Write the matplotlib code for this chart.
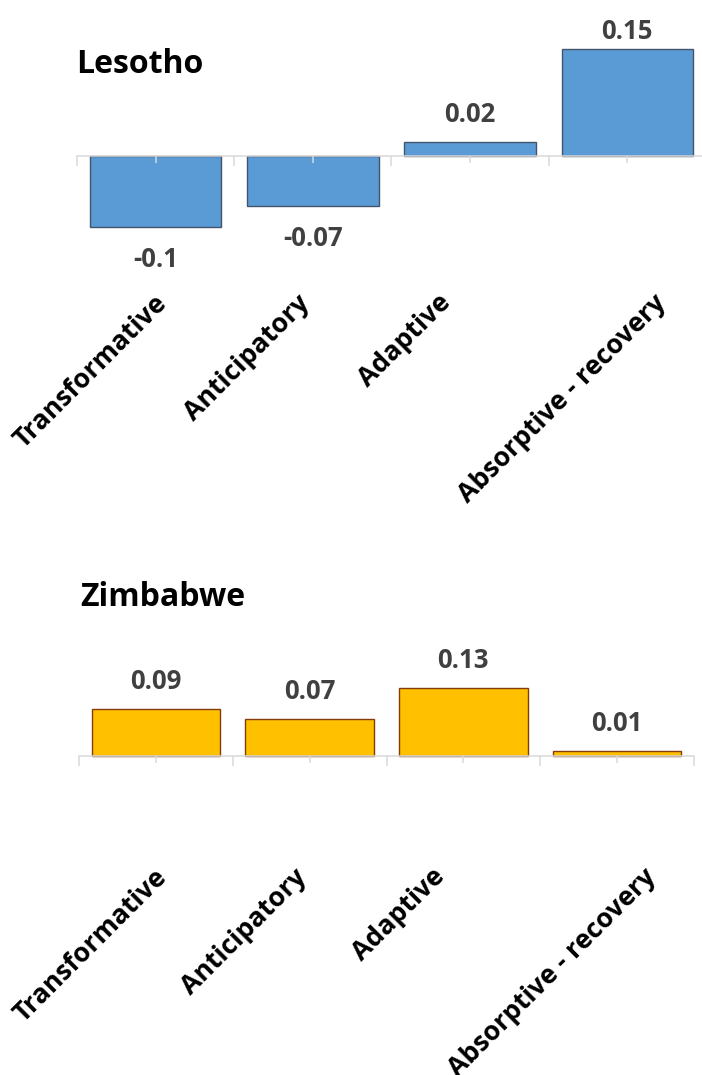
import matplotlib
matplotlib.use("Agg")
import matplotlib.pyplot as plt
from matplotlib.ticker import FixedLocator

plt.rcParams['font.family'] = ['Open Sans', 'DejaVu Sans']

categories = ["Transformative", "Anticipatory", "Adaptive", "Absorptive - recovery"]
lesotho_values = [-0.10, -0.07, 0.02, 0.15]
zimbabwe_values = [0.09, 0.07, 0.13, 0.01]
lesotho_labels = ["-0.1", "-0.07", "0.02", "0.15"]
zimbabwe_labels = ["0.09", "0.07", "0.13", "0.01"]

W, H = 702, 1075
DPI = 100
fig = plt.figure(figsize=(W / DPI, H / DPI), dpi=DPI)

AXIS_GREY = "#d9d9d9"
LABEL_GREY = "#404040"
WEIGHT = "bold"


def make_panel(title, values, labels, fill, edge, left_px, width_px,
               base_px, px_per_unit, ylim, title_xy, cat_drop_px, top_label_px):
    y_lo, y_hi = ylim
    top_px = base_px - y_hi * px_per_unit
    bot_px = base_px - y_lo * px_per_unit
    ax = fig.add_axes([left_px / W, 1 - bot_px / H, width_px / W, (bot_px - top_px) / H])
    ax.set_xlim(-0.5, len(values) - 0.5)
    ax.set_ylim(y_lo, y_hi)
    ax.patch.set_alpha(0)

    x = list(range(len(values)))
    ax.bar(x, values, width=0.835, color=fill, edgecolor=edge, linewidth=1.0, zorder=1)

    for s in ("top", "left", "right"):
        ax.spines[s].set_visible(False)
    ax.spines["bottom"].set_position(("data", 0))
    ax.spines["bottom"].set_color(AXIS_GREY)
    ax.spines["bottom"].set_linewidth(1.1)
    ax.spines["bottom"].set_zorder(3)

    ax.xaxis.set_major_locator(FixedLocator([i - 0.5 for i in range(len(values) + 1)]))
    ax.xaxis.set_minor_locator(FixedLocator(x))
    ax.tick_params(axis="x", which="major", direction="out", length=7.2, width=1.1,
                   color=AXIS_GREY, labelbottom=False)
    ax.tick_params(axis="x", which="minor", direction="out", length=5.0, width=1.1,
                   color=AXIS_GREY, labelbottom=False)
    ax.set_yticks([])
    ax.xaxis.set_zorder(3)

    # value labels, kept inside the plot area at the top
    for xi, v, lab in zip(x, values, labels):
        if v >= 0:
            y = v + 20 / px_per_unit
            y = min(y, (base_px - top_label_px) / px_per_unit)
        else:
            y = v - 40 / px_per_unit
        ax.text(xi, y, lab, ha="center", va="baseline", fontsize=18.5,
                fontweight=WEIGHT, color=LABEL_GREY, clip_on=False)

    # rotated category labels
    for xi, cat in zip(x, categories):
        ax.annotate(cat, xy=(xi, 0), xycoords="data",
                    xytext=(-65, -cat_drop_px), textcoords="offset pixels",
                    rotation=45, ha="center", va="top", fontsize=19.2,
                    fontweight=WEIGHT, color="black", annotation_clip=False)

    fig.text(title_xy[0] / W, 1 - title_xy[1] / H, title, ha="left", va="baseline",
             fontsize=23, fontweight=WEIGHT, color="black")
    return ax


make_panel("Lesotho", lesotho_values, lesotho_labels, "#5B9BD5", "#44546A",
           left_px=77, width_px=629, base_px=156, px_per_unit=713,
           ylim=(-0.16, 0.19), title_xy=(76, 73), cat_drop_px=134, top_label_px=39)

make_panel("Zimbabwe", zimbabwe_values, zimbabwe_labels, "#FFC000", "#843C0C",
           left_px=79, width_px=615, base_px=756, px_per_unit=523,
           ylim=(-0.06, 0.17), title_xy=(80, 606), cat_drop_px=108, top_label_px=0)

fig.savefig("out.png", dpi=DPI, facecolor="white")
